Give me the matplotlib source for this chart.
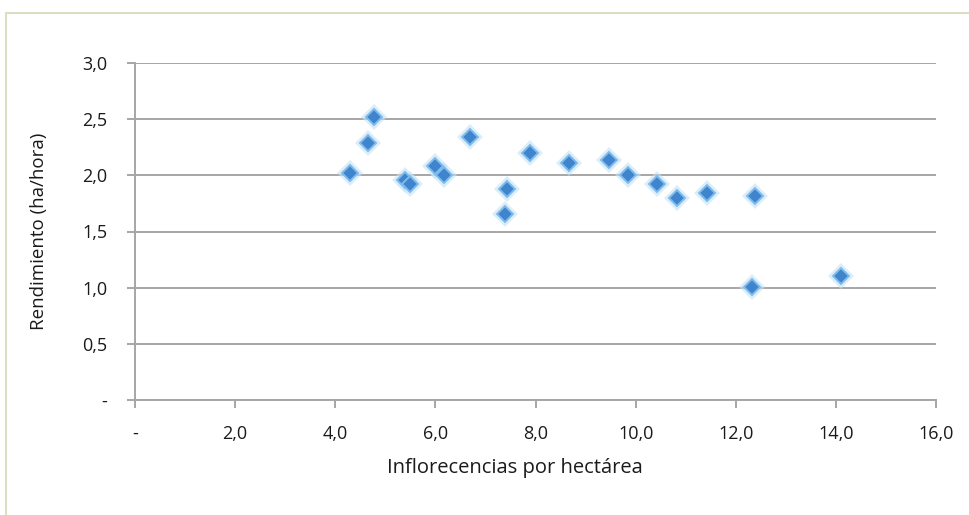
import matplotlib.pyplot as plt
from matplotlib.patches import Rectangle
from matplotlib.ticker import FixedLocator, FixedFormatter

plt.rcParams['font.family'] = ['Open Sans', 'DejaVu Sans']

# inflorescences per hectare vs yield (ha/hour)
inflorescencias = [4.29, 4.65, 4.77, 5.40, 5.49, 6.00, 6.17, 6.69, 7.43, 7.40,
                   7.90, 8.67, 9.47, 9.85, 10.42, 10.82, 11.43, 12.38, 12.33, 14.10]
rendimiento = [2.02, 2.29, 2.52, 1.96, 1.92, 2.08, 2.00, 2.34, 1.88, 1.66,
               2.20, 2.11, 2.14, 2.00, 1.92, 1.80, 1.84, 1.82, 1.01, 1.10]

x_ticks = [0, 2, 4, 6, 8, 10, 12, 14, 16]
x_labels = ['-', '2,0', '4,0', '6,0', '8,0', '10,0', '12,0', '14,0', '16,0']
y_ticks = [0, 0.5, 1.0, 1.5, 2.0, 2.5, 3.0]
y_labels = ['-', '0,5', '1,0', '1,5', '2,0', '2,5', '3,0']

grey = '#A6A6A6'
ink = '#1A1A1A'

fig = plt.figure(figsize=(9.69, 5.15), dpi=100)
ax = fig.add_axes([135 / 969, 1 - 400 / 515, 801 / 969, 337 / 515])

# outer chart frame
fig.patches.append(Rectangle((6 / 969, -0.1), 1.1, 1 - 13 / 515 + 0.1,
                             transform=fig.transFigure, fill=False,
                             edgecolor='#D4D8B4', linewidth=1.2))

ax.set_xlim(0, 16)
ax.set_ylim(0, 3.0)

ax.xaxis.set_major_locator(FixedLocator(x_ticks))
ax.xaxis.set_major_formatter(FixedFormatter(x_labels))
ax.yaxis.set_major_locator(FixedLocator(y_ticks))
ax.yaxis.set_major_formatter(FixedFormatter(y_labels))

ax.grid(axis='y', color=grey, linewidth=1.4)
ax.set_axisbelow(True)

for side in ['top', 'right']:
    ax.spines[side].set_visible(False)
for side in ['left', 'bottom']:
    ax.spines[side].set_color(grey)
    ax.spines[side].set_linewidth(1.4)

ax.tick_params(axis='both', direction='out', length=6, width=1.4, color=grey,
               labelsize=13, labelcolor=ink)
ax.tick_params(axis='x', pad=12)
ax.tick_params(axis='y', pad=14)

# soft glow + core diamond
ax.plot(inflorescencias, rendimiento, linestyle='none', marker='D',
        markersize=13, color='#C6E2F7', alpha=0.6, markeredgewidth=0, zorder=3)
ax.plot(inflorescencias, rendimiento, linestyle='none', marker='D',
        markersize=8.5, color='#3F84CC', markeredgecolor='#7DBBEC',
        markeredgewidth=1.4, zorder=4)

ax.set_xlabel('Inflorecencias por hectárea', fontsize=14.5, color=ink, va='center')
ax.set_ylabel('Rendimiento (ha/hora)', fontsize=13.5, color=ink, va='center')
ax.xaxis.set_label_coords(380 / 801, -68 / 337)
ax.yaxis.set_label_coords(-96 / 801, 0.5)

fig.savefig('out.png', dpi=100)
